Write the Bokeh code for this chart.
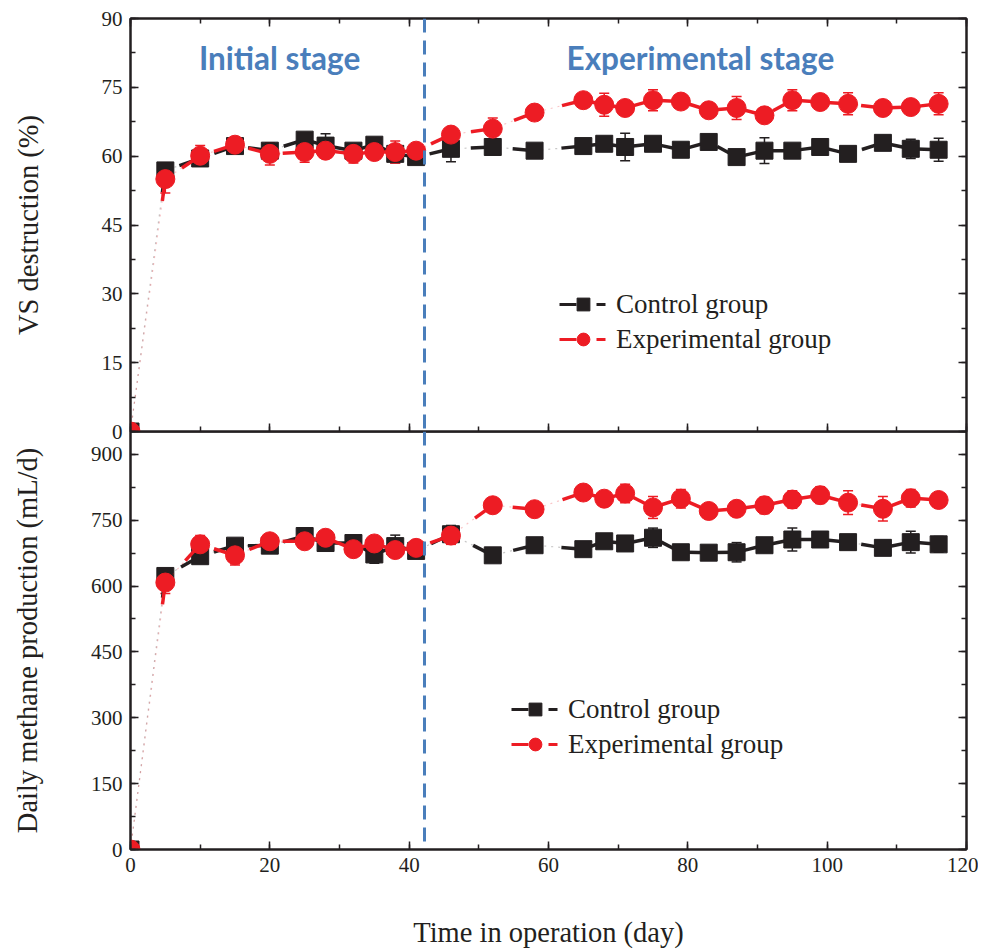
from bokeh.plotting import figure
from bokeh.layouts import column
from bokeh.models import (Range1d, LinearAxis, SingleIntervalTicker, Span, Label,
                          Legend, LegendItem, ColumnDataSource, Whisker, TeeHead,
                          CustomLabelingPolicy)
from bokeh.embed import file_html
from bokeh.resources import INLINE

# ---------------- data ----------------
days = [0, 5, 10, 15, 20, 25, 28, 32, 35, 38, 41, 46, 52, 58, 65, 68, 71, 75, 79, 83,
        87, 91, 95, 99, 103, 108, 112, 116]
vs_control = [0, 56.9, 59.5, 62.2, 61.2, 63.6, 62.3, 61.2, 62.5, 60.5, 59.8, 61.6, 62.0, 61.2,
              62.2, 62.7, 62.0, 62.7, 61.4, 63.1, 59.8, 61.2, 61.2, 62.0, 60.5, 62.9, 61.6, 61.4]
vs_control_err = [0, 1, 1.5, 1.2, 1, 1, 2.6, 1, 1, 2, 1, 2.8, 1.5, 0.5, 0.5, 1.5, 3.0, 0.8,
                  0.5, 0.8, 0.5, 2.8, 0.8, 1.2, 1, 0.7, 2.1, 2.5]
vs_exp = [0, 55.0, 60.1, 62.5, 60.5, 60.9, 61.2, 60.5, 60.9, 60.9, 61.2, 64.7, 66.0, 69.5,
          72.2, 71.2, 70.5, 72.2, 71.9, 70.0, 70.5, 68.9, 72.2, 71.8, 71.4, 70.5, 70.7, 71.4]
vs_exp_err = [0, 3, 2.2, 1, 2.4, 2.2, 1.5, 2, 1, 2.4, 1, 1.5, 2.3, 0.8, 0.5, 2.5, 0.8, 2.3,
              0.8, 0.5, 2.5, 0.5, 2.3, 1, 2.4, 0.5, 0.8, 2.4]
ch4_control = [0, 623, 668, 692, 692, 714, 698, 698, 672, 691, 680, 718, 670, 693, 684, 702,
               697, 710, 677, 676, 677, 693, 706, 706, 700, 687, 700, 695]
ch4_control_err = [0, 15, 15, 12, 15, 10, 12, 10, 20, 25, 12, 20, 8, 15, 8, 10, 8, 22, 15, 10,
                   22, 12, 26, 12, 8, 12, 25, 18]
ch4_exp = [0, 608, 695, 670, 702, 702, 710, 684, 697, 682, 687, 715, 784, 775, 813, 799, 811,
           779, 799, 771, 776, 784, 797, 807, 790, 776, 800, 796]
ch4_exp_err = [0, 25, 20, 22, 10, 10, 15, 10, 10, 15, 15, 20, 10, 8, 12, 10, 21, 25, 21, 10,
               8, 19, 20, 19, 27, 28, 20, 10]

stage_boundary = 42.2
series_labels = ["Control group", "Experimental group"]
stage_labels = ["Initial stage", "Experimental stage"]

BLACK = "#231f20"
RED = "#ed1c24"
BLUE = "#4a7ebb"
SERIF = "Liberation Serif"
SQ = 17
CI = 19

xr = Range1d(0, 120)
NO_LABELS = CustomLabelingPolicy(code="for (const i of indices) { indices.unset(i) } return indices")
OVERLAP = 14


def style_axis(ax, show_labels=True):
    ax.axis_line_color = BLACK
    ax.axis_line_width = 2
    ax.major_tick_line_color = BLACK
    ax.minor_tick_line_color = BLACK
    ax.major_tick_line_width = 1.5
    ax.minor_tick_line_width = 1.5
    ax.major_tick_in = 8
    ax.major_tick_out = 0
    ax.minor_tick_in = 5
    ax.minor_tick_out = 0
    if show_labels:
        ax.major_label_text_font = SERIF
        ax.major_label_text_font_size = "21px"
        ax.major_label_text_color = BLACK
        ax.major_label_standoff = 8
    else:
        ax.major_label_policy = NO_LABELS
        ax.major_label_text_font_size = "1px"
        ax.major_label_standoff = 0
    ax.axis_label_text_font = SERIF
    ax.axis_label_text_font_size = "28.5px"
    ax.axis_label_text_font_style = "normal"
    ax.axis_label_text_color = BLACK


def make_panel(yr, ystep, ylabel, ylabel_standoff, frame_h, top_b, bottom_b, bottom_labels):
    p = figure(frame_width=836, frame_height=frame_h, x_range=xr, y_range=yr,
               output_backend="svg", toolbar_location=None,
               min_border_left=130, min_border_right=12,
               min_border_top=top_b, min_border_bottom=bottom_b,
               x_axis_location=None, y_axis_location=None)
    p.grid.visible = False
    p.outline_line_color = BLACK
    p.outline_line_width = 2
    p.outline_line_alpha = 1

    yl = LinearAxis(ticker=SingleIntervalTicker(interval=ystep, num_minor_ticks=2),
                    axis_label=ylabel)
    style_axis(yl)
    yl.axis_label_standoff = ylabel_standoff
    p.add_layout(yl, "left")
    yr_ax = LinearAxis(ticker=SingleIntervalTicker(interval=ystep, num_minor_ticks=2))
    style_axis(yr_ax, False)
    p.add_layout(yr_ax, "right")

    xb = LinearAxis(ticker=SingleIntervalTicker(interval=20, num_minor_ticks=2))
    style_axis(xb, bottom_labels)
    if bottom_labels:
        xb.axis_label = "Time in operation (day)"
        xb.axis_label_standoff = 42
    p.add_layout(xb, "below")
    return p


def add_series(p, y, err, color, marker, size):
    src = ColumnDataSource(dict(x=days, lo=[a - e for a, e in zip(y, err)],
                                hi=[a + e for a, e in zip(y, err)]))
    w = Whisker(source=src, base="x", lower="lo", upper="hi", line_color=color, line_width=1.5,
                upper_head=TeeHead(size=10, line_color=color, line_width=1.5),
                lower_head=TeeHead(size=10, line_color=color, line_width=1.5))
    p.add_layout(w)
    p.line(days, y, line_color=color, line_width=1.2, line_alpha=0.25, line_dash="2 5")
    xs = [[days[i + 1], days[i]] for i in range(len(days) - 1)]
    ys = [[y[i + 1], y[i]] for i in range(len(days) - 1)]
    p.multi_line(xs, ys, line_color=color, line_width=3.5, line_dash="22 2000")
    p.scatter(days, y, marker=marker, size=size, fill_color=color, line_color=color)


def add_legend(p, lx, ly):
    items = []
    for lab, color, marker, size in [(series_labels[0], BLACK, "square", SQ),
                                     (series_labels[1], RED, "circle", CI)]:
        # legend-only renderers: their data lies outside the visible x range
        lr = p.line([-50, -40], [0, 0], line_color=color, line_width=3,
                    line_dash="17 20 9 100")
        mr = p.scatter([-50], [0], marker=marker, size=size, fill_color=color, line_color=color)
        items.append(LegendItem(label=lab, renderers=[lr, mr]))
    leg = Legend(items=items, location=(lx, ly), glyph_width=48, glyph_height=32,
                 label_height=32, spacing=3, padding=0, margin=0, border_line_alpha=0,
                 background_fill_alpha=0, label_text_font=SERIF, label_text_font_size="27px",
                 label_text_color=BLACK, label_standoff=9)
    p.add_layout(leg, "center")


# ---------------- top panel ----------------
p1 = make_panel(Range1d(0, 90), 15, "VS destruction (%)", 55, 413, 18, OVERLAP, False)
xa = LinearAxis(ticker=SingleIntervalTicker(interval=20, num_minor_ticks=2))
style_axis(xa, False)
p1.add_layout(xa, "above")
p1.add_layout(Span(location=stage_boundary, dimension="height", line_color=BLUE,
                   line_width=3, line_dash="14 8"))
add_series(p1, vs_control, vs_control_err, BLACK, "square", SQ)
add_series(p1, vs_exp, vs_exp_err, RED, "circle", CI)
add_legend(p1, 429, 76)
for t, xc in zip(stage_labels, [21.4, 81.8]):
    p1.add_layout(Label(x=xc, y=81.3, text=t, text_font="Lato", text_font_style="bold",
                        text_font_size="31.5px", text_color=BLUE, text_align="center",
                        text_baseline="middle"))

# ---------------- bottom panel ----------------
p2 = make_panel(Range1d(0, 952), 150, "Daily methane production (mL/d)", 45, 418, 0, 100, True)
p2.border_fill_alpha = 0
p2.background_fill_alpha = 0
p2.margin = (-OVERLAP, 0, 0, 0)
p2.add_layout(Span(location=stage_boundary, dimension="height", line_color=BLUE,
                   line_width=3, line_dash="14 8"))
add_series(p2, ch4_control, ch4_control_err, BLACK, "square", SQ)
add_series(p2, ch4_exp, ch4_exp_err, RED, "circle", CI)
add_legend(p2, 381, 89)

layout = column(p1, p2, spacing=0)
open("out.html", "w").write(file_html(layout, INLINE))
